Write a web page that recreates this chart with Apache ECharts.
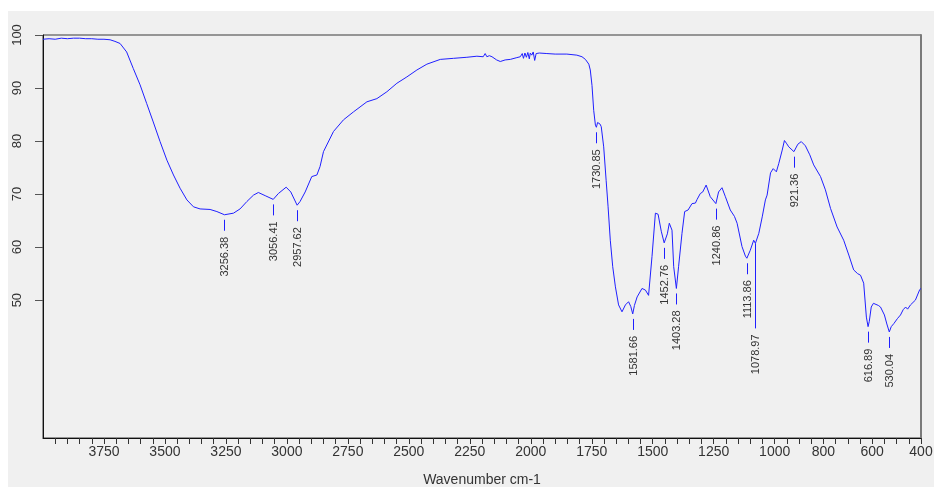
<!DOCTYPE html>
<html>
<head>
<meta charset="utf-8">
<title>FTIR spectrum</title>
<script src="https://cdn.jsdelivr.net/npm/echarts@6/dist/echarts.min.js"></script>
<style>
  html, body { margin: 0; padding: 0; background: #ffffff; }
  #wrap { position: relative; width: 934px; height: 487px; overflow: hidden; }
  #panel { position: absolute; left: 8px; top: 11px; right: 0; bottom: 0; background: #f0f0f0; }
  #chart { position: absolute; left: 0; top: 0; width: 934px; height: 487px; }
</style>
</head>
<body>
<div id="wrap">
  <div id="panel"></div>
  <div id="chart"></div>
</div>
<script>
// Spectrum: wavenumber (cm-1) and transmittance (%T)
const wavenumbers = [
  4000, 3975, 3950, 3925, 3900, 3875, 3850, 3825, 3800, 3775, 3750, 3725, 3705,
  3684, 3657, 3630, 3602, 3575, 3548, 3520, 3492, 3465, 3438, 3410, 3383, 3356,
  3315, 3287, 3256, 3219, 3192, 3164, 3137, 3117, 3089, 3056, 3035, 3003, 2984,
  2958, 2946, 2925, 2898, 2877, 2864, 2850, 2809, 2768, 2727, 2672, 2631, 2590,
  2549, 2508, 2467, 2426, 2371, 2317, 2262, 2221, 2195, 2187, 2180, 2170, 2159,
  2140, 2125, 2105, 2084, 2060, 2043, 2035, 2030, 2024, 2018, 2012, 2006, 2002,
  1996, 1990, 1984, 1978, 1965, 1934, 1900, 1852, 1811, 1790, 1776, 1762, 1756,
  1749, 1742, 1735, 1731, 1726, 1722, 1716, 1711, 1701, 1691, 1683, 1674, 1664,
  1653, 1640, 1626, 1612, 1599, 1590, 1582, 1575, 1564, 1544, 1530, 1517, 1503,
  1489, 1478, 1465, 1453, 1440, 1432, 1421, 1414, 1403, 1394, 1380, 1369, 1355,
  1339, 1325, 1318, 1305, 1295, 1281, 1264, 1241, 1230, 1216, 1202, 1182, 1165,
  1154, 1134, 1120, 1114, 1100, 1086, 1079, 1065, 1051, 1038, 1031, 1017, 1006,
  993, 983, 969, 960, 952, 942, 921, 905, 891, 874, 856, 840, 812, 792, 771,
  744, 717, 696, 676, 660, 648, 635, 624, 617, 612, 604, 595, 587, 575, 566,
  550, 540, 530, 522, 511, 497, 484, 473, 463, 455, 443, 435, 423, 415, 405, 400
];
const transmittance = [
  99.2, 99.3, 99.2, 99.4, 99.3, 99.4, 99.4, 99.3, 99.3, 99.2, 99.2, 99.1, 98.8,
  98.4, 96.8, 93.7, 90.6, 87.1, 83.6, 79.9, 76.4, 73.6, 71.1, 68.9, 67.6, 67.2,
  67.1, 66.7, 66.1, 66.4, 67.2, 68.6, 69.8, 70.3, 69.7, 69.0, 70.1, 71.3, 70.4,
  67.9, 68.6, 70.4, 73.3, 73.6, 75.2, 78.0, 81.8, 84.0, 85.5, 87.4, 88.0, 89.3,
  90.9, 92.1, 93.4, 94.5, 95.4, 95.6, 95.8, 96.0, 95.9, 96.5, 95.9, 96.1, 95.9,
  95.3, 95.0, 95.3, 95.4, 95.7, 95.9, 96.5, 95.6, 96.6, 95.8, 96.7, 95.5, 96.6,
  96.2, 96.8, 95.2, 96.5, 96.6, 96.5, 96.4, 96.4, 96.2, 95.9, 95.4, 94.5, 93.4,
  90.5, 85.8, 83.0, 82.6, 83.5, 83.6, 83.2, 82.7, 78.9, 72.6, 67.6, 61.3, 56.3,
  52.5, 49.1, 47.8, 49.1, 49.7, 48.8, 47.4, 49.0, 50.6, 52.2, 51.9, 50.9, 58.2,
  66.4, 66.2, 63.0, 60.8, 62.5, 64.5, 63.2, 56.3, 52.2, 56.3, 62.6, 66.7, 67.0,
  68.2, 68.3, 69.0, 70.1, 70.4, 71.7, 69.5, 68.2, 70.4, 71.2, 69.5, 67.0, 65.8,
  64.5, 60.1, 58.3, 57.9, 59.4, 61.3, 60.7, 62.6, 65.7, 68.9, 69.8, 74.0, 74.8,
  74.2, 75.8, 78.3, 80.1, 79.6, 78.9, 78.0, 79.4, 79.9, 79.1, 77.4, 75.5, 73.3, 70.8, 67.3,
  63.8, 61.3, 58.5, 55.7, 55.0, 54.7, 53.2, 46.8, 45.0, 46.0, 48.7, 49.4, 49.5, 49.0, 48.7,
  47.2, 45.5, 44.0, 45.0, 45.6, 46.5, 47.2, 48.2, 48.7, 48.3, 49.1, 49.4, 50.0, 50.1, 52.0, 52.2
];

// Picked peaks: position, %T at the band, printed label
const peakWavenumbers = [3256.38, 3056.41, 2957.62, 1730.85, 1581.66, 1452.76, 1403.28,
                         1240.86, 1113.86, 1078.97, 921.36, 616.89, 530.04];
const peakTransmittance = [66.1, 69.0, 67.9, 82.6, 47.4, 60.8, 52.2,
                           68.2, 57.9, 60.7, 78.0, 45.0, 44.0];
const peakLabels = ['3256.38', '3056.41', '2957.62', '1730.85', '1581.66', '1452.76', '1403.28',
                    '1240.86', '1113.86', '1078.97', '921.36', '616.89', '530.04'];

// Axis ticks and labels
const xTickLabels = [3750, 3500, 3250, 3000, 2750, 2500, 2250, 2000, 1750, 1500, 1250, 1000, 800, 600, 400];
const xMinorTicks = [];
for (let v = 400; v < 4000; v += 50) xMinorTicks.push(v);
const yTickLabels = [50, 60, 70, 80, 90, 100];

const spectrum = wavenumbers.map((w, i) => [w, transmittance[i]]);
const peaks = peakWavenumbers.map((w, i) => [w, peakTransmittance[i], peakLabels[i]]);

const LINE_BLUE = '#1f1fff';
const FONT_FAMILY = '"Liberation Sans", Arial, sans-serif';
const LABEL_FONT = '11px ' + FONT_FAMILY;
// leader (px) for labels pushed further down to stay clear of neighbours
const longLeaders = { '1078.97': 85 };

const chart = echarts.init(document.getElementById('chart'), null, { renderer: 'canvas' });
chart.setOption({
  backgroundColor: 'transparent',
  animation: false,
  grid: {
    left: 43, right: 13, top: 35, bottom: 49,
    outerBoundsMode: 'none',
    containLabel: false,
    show: true, borderColor: '#3a3a3a', borderWidth: 1, backgroundColor: 'transparent'
  },
  xAxis: {
    type: 'value', inverse: true, min: 400, max: 4000,
    name: 'Wavenumber cm-1', nameLocation: 'middle', nameGap: 35,
    nameTextStyle: { color: '#333', fontSize: 14, fontFamily: FONT_FAMILY },
    axisLine: { show: true, lineStyle: { color: '#111', width: 1 } },
    axisTick: { show: true, length: 6, lineStyle: { color: '#333' }, customValues: xMinorTicks },
    axisLabel: {
      color: '#333', fontSize: 14, margin: 7,
      fontFamily: FONT_FAMILY,
      customValues: xTickLabels,
      formatter: v => String(v)
    },
    splitLine: { show: false }
  },
  yAxis: [{
    type: 'value', min: 24, max: 100,
    axisLine: { show: true, lineStyle: { color: '#111', width: 1 } },
    axisTick: { show: true, length: 8, lineStyle: { color: '#555' }, customValues: yTickLabels },
    axisLabel: {
      color: '#333', fontSize: 13, rotate: 90, margin: 19,
      fontFamily: FONT_FAMILY,
      customValues: yTickLabels,
      formatter: v => String(v)
    },
    splitLine: { show: false }
  }, {
    type: 'value', min: 24, max: 100, position: 'right',
    axisLine: { show: true, lineStyle: { color: '#7a7a7a', width: 2 } },
    axisTick: { show: false }, axisLabel: { show: false }, splitLine: { show: false }
  }],
  series: [{
    type: 'line',
    data: spectrum,
    showSymbol: false,
    symbol: 'none',
    lineStyle: { color: LINE_BLUE, width: 1 },
    silent: true,
    z: 3
  }, {
    type: 'custom',
    data: peaks,
    silent: true,
    z: 4,
    renderItem: function (params, api) {
      const p = api.coord([api.value(0), api.value(1)]);
      const label = peakLabels[params.dataIndex];
      const x = Math.round(p[0]) + 0.5;
      let y0, y1;
      if (longLeaders[label] !== undefined) {
        y0 = p[1];
        y1 = p[1] + longLeaders[label];
      } else {
        y0 = p[1] + 5;
        y1 = p[1] + 16;
      }
      return {
        type: 'group',
        children: [{
          type: 'line',
          shape: { x1: x, y1: y0, x2: x, y2: y1 },
          style: { stroke: LINE_BLUE, lineWidth: 1 }
        }, {
          type: 'text',
          x: x, y: y1 + 6,
          rotation: Math.PI / 2,
          style: {
            text: label, x: 0, y: 0,
            align: 'right', verticalAlign: 'middle',
            fill: '#333', font: LABEL_FONT
          }
        }]
      };
    }
  }]
});
</script>
</body>
</html>
